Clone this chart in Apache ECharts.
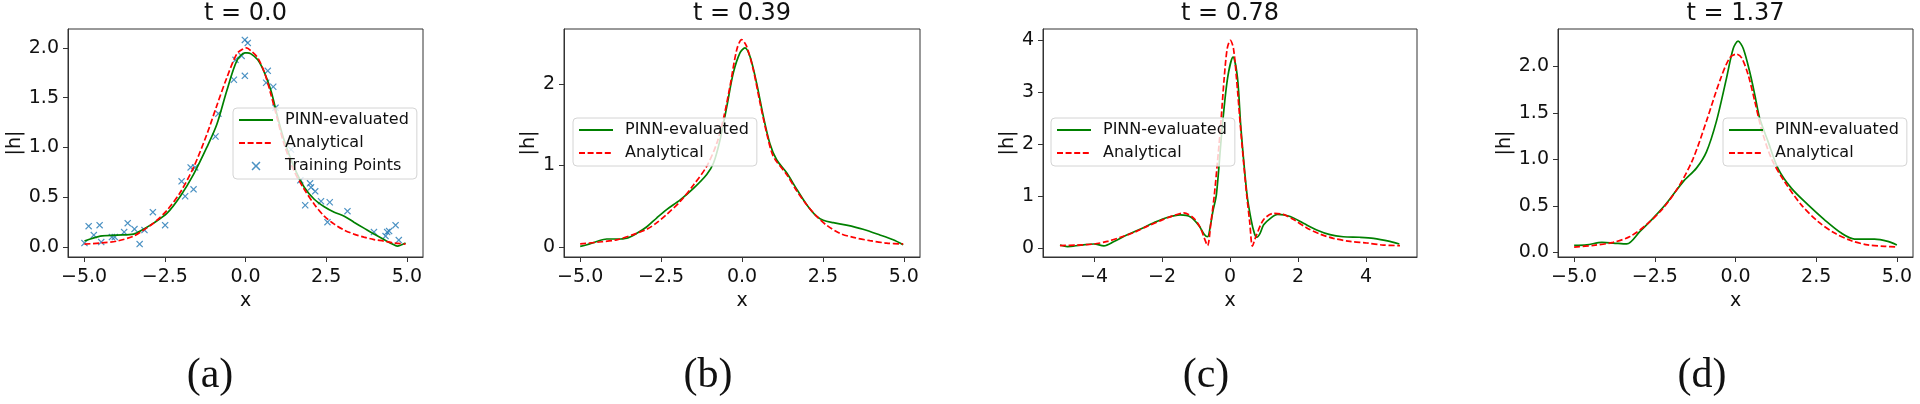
<!DOCTYPE html>
<html lang="en">
<head>
<meta charset="UTF-8">
<title>PINN-evaluated vs analytical |h|</title>
<style>
  html, body { margin: 0; padding: 0; background: #fff; }
  #chart { width: 1920px; height: 404px; }
</style>
</head>
<body>
<div id="chart"></div>
<script src="https://cdn.jsdelivr.net/npm/echarts@6.0.0/dist/echarts.min.js"></script>
<script>
// tick values
const xTicks = [-5, -2.5, 0, 2.5, 5];
const xTicksC = [-4, -2, 0, 2, 4];
const yTicksA = [0, 0.5, 1, 1.5, 2];
const yTicksB = [0, 1, 2];
const yTicksC = [0, 1, 2, 3, 4];
const yTicksD = [0, 0.5, 1, 1.5, 2];

const titles = ['t = 0.0', 't = 0.39', 't = 0.78', 't = 1.37'];
const captions = ['(a)', '(b)', '(c)', '(d)'];

// (a) t = 0.0
const pinnA = [[-4.99,0.06],[-4.5,0.11],[-3.98,0.12],[-3.47,0.13],[-3.16,0.18],[-2.85,0.24],[-2.43,0.34],[-2.02,0.51],[-1.61,0.73],[-1.2,1.0],[-0.89,1.23],[-0.58,1.57],[-0.27,1.87],[-0.02,1.95],[0.05,1.95],[0.17,1.94],[0.38,1.88],[0.59,1.75],[0.79,1.57],[1.0,1.30],[1.2,1.07],[1.51,0.80],[1.82,0.60],[2.13,0.48],[2.44,0.405],[2.75,0.35],[3.06,0.31],[3.36,0.25],[3.67,0.19],[3.98,0.13],[4.29,0.075],[4.55,0.03],[4.7,0.01],[4.96,0.04]];
const anaA = [[-4.99,0.03],[-4.5,0.04],[-3.98,0.06],[-3.47,0.11],[-3.16,0.17],[-2.85,0.24],[-2.43,0.37],[-2.02,0.55],[-1.61,0.80],[-1.2,1.13],[-0.89,1.42],[-0.58,1.70],[-0.27,1.94],[-0.08,1.99],[0.03,2.0],[0.17,1.97],[0.38,1.90],[0.59,1.75],[0.79,1.53],[1.0,1.27],[1.2,1.03],[1.51,0.76],[1.82,0.58],[2.13,0.43],[2.44,0.31],[2.75,0.23],[3.06,0.17],[3.36,0.13],[3.67,0.10],[3.98,0.075],[4.29,0.06],[4.6,0.04],[4.96,0.03]];
const trainA = [[-4.99,0.04],[-4.86,0.21],[-4.70,0.12],[-4.52,0.22],[-4.47,0.05],[-4.14,0.10],[-4.05,0.10],[-3.76,0.15],[-3.65,0.24],[-3.44,0.18],[-3.28,0.03],[-3.13,0.17],[-2.87,0.35],[-2.49,0.22],[-1.98,0.66],[-1.87,0.51],[-1.70,0.80],[-1.56,0.80],[-1.61,0.58],[-0.93,1.11],[-0.84,1.34],[-0.36,1.68],[-0.31,1.88],[-0.12,1.92],[-0.02,2.08],[0.07,2.05],[-0.02,1.72],[0.69,1.77],[0.64,1.65],[0.86,1.61],[0.93,1.40],[1.41,0.98],[1.70,0.67],[2.0,0.64],[2.03,0.60],[2.16,0.56],[1.85,0.42],[2.34,0.46],[2.61,0.45],[2.54,0.25],[3.16,0.36],[3.98,0.15],[4.39,0.15],[4.45,0.16],[4.34,0.11],[4.65,0.22],[4.75,0.07]];

// (b) t = 0.39
const pinnB = [[-5,0.01],[-4.79,0.03],[-4.49,0.07],[-4.18,0.10],[-3.87,0.10],[-3.56,0.11],[-3.25,0.17],[-2.94,0.25],[-2.63,0.36],[-2.33,0.46],[-1.91,0.58],[-1.5,0.72],[-1.09,0.89],[-0.88,1.03],[-0.68,1.31],[-0.47,1.72],[-0.27,2.13],[-0.06,2.38],[0.09,2.44],[0.25,2.33],[0.45,2.01],[0.66,1.60],[0.86,1.27],[1.07,1.07],[1.38,0.91],[1.69,0.71],[2.0,0.52],[2.3,0.38],[2.51,0.33],[2.82,0.30],[3.23,0.27],[3.74,0.22],[4.26,0.15],[4.67,0.09],[4.98,0.03]];
const anaB = [[-5,0.04],[-4.49,0.06],[-3.87,0.09],[-3.25,0.17],[-2.94,0.22],[-2.63,0.30],[-2.33,0.40],[-1.91,0.56],[-1.5,0.76],[-1.09,0.99],[-0.78,1.27],[-0.58,1.56],[-0.37,1.97],[-0.16,2.42],[-0.01,2.54],[0.14,2.46],[0.35,2.17],[0.56,1.76],[0.76,1.40],[0.97,1.11],[1.38,0.89],[1.69,0.69],[2.0,0.52],[2.3,0.38],[2.61,0.27],[3.02,0.17],[3.44,0.12],[3.95,0.08],[4.47,0.05],[4.98,0.04]];

// (c) t = 0.78
const pinnC = [[-5.0,0.06],[-4.78,0.03],[-4.39,0.06],[-4.0,0.08],[-3.71,0.045],[-3.41,0.13],[-3.02,0.26],[-2.63,0.37],[-2.24,0.49],[-1.85,0.59],[-1.46,0.64],[-1.16,0.60],[-0.92,0.44],[-0.76,0.27],[-0.66,0.22],[-0.58,0.42],[-0.50,0.72],[-0.40,1.03],[-0.23,2.32],[-0.07,3.28],[0.09,3.68],[0.22,3.28],[0.32,2.32],[0.50,1.03],[0.62,0.55],[0.72,0.28],[0.79,0.21],[0.88,0.28],[0.99,0.45],[1.18,0.57],[1.4,0.65],[1.77,0.61],[2.16,0.48],[2.55,0.35],[2.94,0.26],[3.33,0.22],[3.82,0.21],[4.22,0.19],[4.70,0.13],[4.98,0.08]];
const anaC = [[-5.0,0.05],[-4.5,0.06],[-4.0,0.08],[-3.61,0.13],[-3.22,0.21],[-2.83,0.30],[-2.44,0.42],[-2.04,0.53],[-1.65,0.63],[-1.36,0.68],[-1.07,0.58],[-0.87,0.39],[-0.76,0.20],[-0.66,0.05],[-0.56,0.50],[-0.46,1.03],[-0.37,1.65],[-0.28,2.32],[-0.17,3.28],[-0.08,3.85],[0.01,4.0],[0.10,3.85],[0.19,3.28],[0.31,2.32],[0.40,1.65],[0.49,1.03],[0.58,0.50],[0.66,0.04],[0.76,0.22],[0.99,0.55],[1.28,0.67],[1.57,0.65],[1.87,0.55],[2.26,0.39],[2.65,0.27],[3.04,0.19],[3.53,0.13],[4.02,0.10],[4.51,0.06],[5.0,0.05]];

// (d) t = 1.37
const pinnD = [[-5.0,0.075],[-4.61,0.08],[-4.14,0.107],[-3.79,0.10],[-3.37,0.09],[-2.96,0.225],[-2.55,0.368],[-2.13,0.53],[-1.62,0.76],[-1.21,0.905],[-0.90,1.08],[-0.59,1.41],[-0.28,1.87],[-0.07,2.19],[0.08,2.27],[0.24,2.19],[0.44,1.94],[0.60,1.69],[0.75,1.44],[1.01,1.19],[1.32,0.90],[1.73,0.69],[2.25,0.51],[2.76,0.35],[3.28,0.207],[3.69,0.143],[4.31,0.143],[4.72,0.118],[5.0,0.08]];
const anaD = [[-5.0,0.057],[-4.40,0.075],[-3.79,0.107],[-3.27,0.17],[-2.75,0.30],[-2.24,0.475],[-1.72,0.73],[-1.31,1.01],[-0.90,1.41],[-0.49,1.84],[-0.18,2.09],[0.03,2.13],[0.19,2.09],[0.39,1.91],[0.60,1.62],[0.80,1.33],[1.11,1.01],[1.52,0.76],[2.04,0.51],[2.56,0.33],[3.07,0.207],[3.59,0.125],[4.10,0.08],[4.62,0.065],[5.0,0.057]];

const FONT = 'DejaVu Sans';
const GREEN = '#008000';
const RED = '#ff0000';
const BLUE = '#1f77b4';
const X_MARK = 'path://M0,1.2L1.2,0L5,3.8L8.8,0L10,1.2L6.2,5L10,8.8L8.8,10L5,6.2L1.2,10L0,8.8L3.8,5Z';

const fmt = (dec) => (v) => (v < 0 ? '\u2212' : '') + Math.abs(v).toFixed(dec);

// layout of the four panels
const panels = [
    { left: 68,   width: 355, ymin: -0.1,  ymax: 2.19, yTicks: yTicksA, yDec: 1, xTicks: xTicks,  xDec: 1, yGap: 37, legendLeft: 233,  capX: 210,  pinn: pinnA, ana: anaA, train: trainA },
    { left: 564,  width: 356, ymin: -0.12, ymax: 2.67, yTicks: yTicksB, yDec: 0, xTicks: xTicks,  xDec: 1, yGap: 17, legendLeft: 573,  capX: 708,  pinn: pinnB, ana: anaB },
    { left: 1043, width: 374, ymin: -0.17, ymax: 4.22, yTicks: yTicksC, yDec: 0, xTicks: xTicksC, xDec: 0, yGap: 18, legendLeft: 1051, capX: 1206, pinn: pinnC, ana: anaC },
    { left: 1558, width: 355, ymin: -0.05, ymax: 2.40, yTicks: yTicksD, yDec: 1, xTicks: xTicks,  xDec: 1, yGap: 37, legendLeft: 1723, capX: 1702, pinn: pinnD, ana: anaD }
];

const GRID_TOP = 29, GRID_H = 228;

const grid = [], xAxis = [], yAxis = [], series = [], legend = [], title = [];

panels.forEach((p, i) => {
    grid.push({
        left: p.left, top: GRID_TOP, width: p.width, height: GRID_H,
        show: true, borderColor: '#333', borderWidth: 1, backgroundColor: '#fff',
        containLabel: false, outerBoundsMode: 'none'
    });
    xAxis.push({
        type: 'value', gridIndex: i, min: -5.5, max: 5.5,
        name: 'x', nameLocation: 'middle', nameGap: 30,
        nameTextStyle: { fontFamily: FONT, fontSize: 19, color: '#111' },
        axisLine: { show: true, onZero: false, lineStyle: { color: '#333' } },
        axisTick: { show: true, length: 5, customValues: p.xTicks, lineStyle: { color: '#333' } },
        axisLabel: { customValues: p.xTicks, formatter: fmt(p.xDec), fontFamily: FONT, fontSize: 19, color: '#111', margin: 11 },
        splitLine: { show: false }
    });
    yAxis.push({
        type: 'value', gridIndex: i, min: p.ymin, max: p.ymax,
        name: '|h|', nameLocation: 'middle', nameGap: p.yGap,
        nameTextStyle: { fontFamily: FONT, fontSize: 19, color: '#111' },
        axisLine: { show: true, onZero: false, lineStyle: { color: '#333' } },
        axisTick: { show: true, length: 5, customValues: p.yTicks, lineStyle: { color: '#333' } },
        axisLabel: { customValues: p.yTicks, formatter: fmt(p.yDec), fontFamily: FONT, fontSize: 19, color: '#111', margin: 9 },
        splitLine: { show: false }
    });
    series.push({
        name: 'PINN-evaluated', type: 'line', xAxisIndex: i, yAxisIndex: i,
        data: p.pinn, symbol: 'none', smooth: 0.3,
        lineStyle: { color: GREEN, width: 1.7 }, itemStyle: { color: GREEN }
    });
    series.push({
        name: 'Analytical', type: 'line', xAxisIndex: i, yAxisIndex: i,
        data: p.ana, symbol: 'none', smooth: 0.3,
        lineStyle: { color: RED, width: 1.7, type: [6, 2.6] }, itemStyle: { color: RED }
    });
    // line entries: hide the dot ECharts puts on a line icon
    const names = [
        { name: 'PINN-evaluated', itemStyle: { opacity: 0 } },
        { name: 'Analytical', itemStyle: { opacity: 0 } }
    ];
    if (p.train) {
        series.push({
            name: 'Training Points', type: 'scatter', xAxisIndex: i, yAxisIndex: i,
            data: p.train, symbol: X_MARK, symbolSize: 7,
            itemStyle: { color: BLUE }
        });
        names.push({ name: 'Training Points' });
    }
    legend.push({
        data: names, orient: 'vertical', left: p.legendLeft, top: p.train ? 108 : 118,
        selectedMode: false, itemWidth: 34, itemHeight: 9, itemGap: 7,
        padding: [4, 8, 5, 5],
        backgroundColor: 'rgba(255,255,255,0.8)', borderColor: '#d4d4d4', borderWidth: 1, borderRadius: 4,
        textStyle: { fontFamily: FONT, fontSize: 16, color: '#111', padding: [0, 0, 0, 7] }
    });
    title.push({
        text: titles[i], left: p.left + p.width / 2, top: 2, textAlign: 'center', padding: 0,
        textStyle: { fontFamily: FONT, fontSize: 24, fontWeight: 'normal', color: '#111' }
    });
    title.push({
        text: captions[i], left: p.capX, top: 355, textAlign: 'center', padding: 0,
        textStyle: { fontFamily: 'Liberation Serif', fontSize: 42, fontWeight: 'normal', color: '#111' }
    });
});

const chart = echarts.init(document.getElementById('chart'));
chart.setOption({
    animation: false,
    backgroundColor: '#fff',
    title, grid, xAxis, yAxis, legend, series
});
</script>
</body>
</html>
